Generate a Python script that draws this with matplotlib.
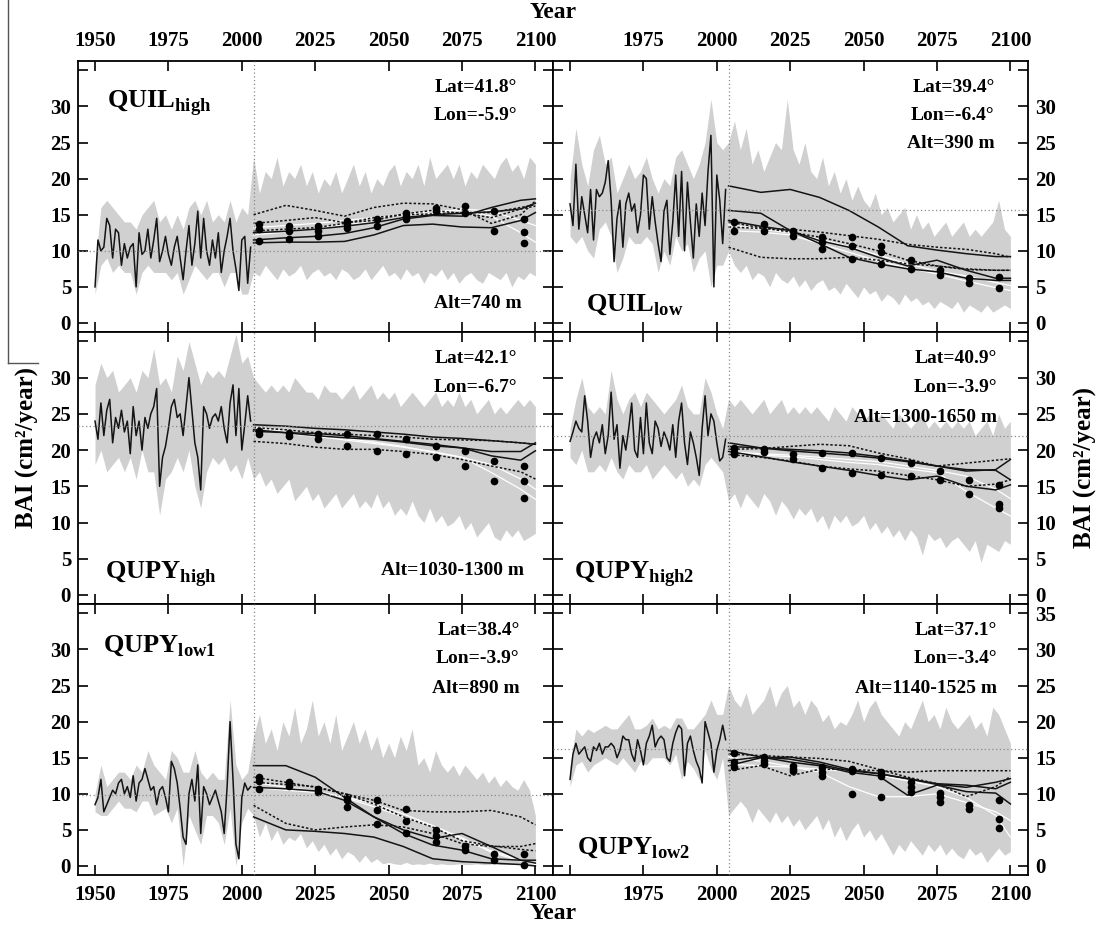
import matplotlib
matplotlib.use("Agg")
import matplotlib.pyplot as plt
import numpy as np
from matplotlib.lines import Line2D

plt.rcParams['font.family'] = ['Liberation Serif', 'DejaVu Serif']
plt.rcParams['font.weight'] = 'bold'
plt.rcParams['mathtext.fontset'] = 'custom'
plt.rcParams['mathtext.rm'] = 'Liberation Serif:bold'
plt.rcParams['mathtext.bf'] = 'Liberation Serif:bold'
plt.rcParams['axes.linewidth'] = 1.3

# ---------------- data ----------------
obs_years = np.arange(1950, 2004)
hist_band_years = np.arange(1950, 2005, 2)
proj_band_years = np.arange(2004, 2101, 2)
proj_years = [2004, 2015, 2025, 2035, 2045, 2055, 2065, 2075, 2085, 2095, 2100]
dot_years = [2006, 2016, 2026, 2036, 2046, 2056, 2066, 2076, 2086, 2096]
x_ticks = [1950, 1975, 2000, 2025, 2050, 2075, 2100]
y_ticks = [0, 5, 10, 15, 20, 25, 30, 35]

# Panel 1 : QUIL high
p1_obs = [5.0, 11.5, 10.0, 10.5, 14.5, 13.5, 9.0, 13.0, 12.5, 8.0, 11.0, 9.0, 10.5, 11.0, 5.0, 12.5, 9.5, 10.0,
          13.0, 9.0, 11.5, 14.5, 8.5, 10.0, 12.0, 9.5, 8.0, 10.5, 12.0, 9.0, 6.0, 10.0, 13.5, 8.0, 11.0, 15.5,
          9.0, 14.5, 10.0, 8.0, 11.5, 9.0, 12.5, 7.0, 10.0, 12.0, 14.5, 10.0, 7.5, 4.5, 11.5, 12.0, 5.5, 10.5]
p1_hist_up = [8, 16, 17, 16, 15, 14, 14, 13, 15, 16, 17, 14, 15, 13, 15, 13, 16, 17, 15, 17, 14, 15, 14, 17, 14, 16, 15, 23]
p1_hist_lo = [4, 8, 9, 7, 8, 7, 7, 4, 7, 8, 7, 7, 7, 6, 7, 4, 6, 8, 7, 6, 7, 7, 5, 7, 7, 4, 4, 7]
p1_proj_up = [23, 18, 21, 20, 23, 19, 21, 20, 22, 19, 21, 18, 20, 19, 21, 18, 20, 22, 19, 21, 18, 20, 19, 21, 22,
              19, 21, 20, 22, 19, 23, 20, 21, 22, 20, 22, 19, 21, 20, 22, 21, 20, 22, 23, 21, 22, 20, 23, 22]
p1_proj_lo = [7, 6.5, 8, 7, 6, 7.5, 6.5, 7, 8, 6, 7, 7.5, 6.5, 7, 6, 7.5, 7, 6, 6.5, 7.5, 6, 7, 8, 6.5, 7, 6,
              7.5, 6.5, 7, 5.5, 7, 6.5, 7.5, 6, 7, 5.5, 6.5, 7, 6, 5.5, 7, 6.5, 6, 7, 5, 6.5, 6, 7, 6.5]
p1_solid = [[11.1, 11.2, 11.2, 11.3, 12.2, 13.5, 13.7, 13.3, 13.2, 14.2, 15.3],
            [11.5, 11.8, 12.0, 12.4, 13.2, 14.4, 14.9, 14.8, 16.0, 17.0, 17.2],
            [12.5, 12.7, 13.0, 13.4, 13.9, 14.6, 15.0, 15.2, 15.4, 15.8, 16.6]]
p1_dotted = [[15.0, 16.3, 15.6, 14.8, 16.0, 16.6, 16.5, 15.7, 13.8, 15.0, 16.9],
             [12.75, 13.0, 13.2, 13.8, 14.6, 15.0, 15.1, 15.3, 15.3, 16.0, 16.4],
             [13.8, 14.2, 14.6, 13.9, 14.2, 15.1, 15.6, 15.2, 14.6, 15.8, 16.2]]
p1_white = [[13.2, 13.5, 13.8, 14.2, 14.6, 15.0, 15.5, 15.6, 14.8, 12.5, 11.2],
            [12.2, 12.6, 13.1, 13.6, 14.0, 14.6, 15.2, 15.8, 15.5, 14.2, 13.5]]
p1_dots = [[13.7, 13.0, 11.4], [13.4, 12.8, 11.6], [13.4, 12.8, 12.1], [14.1, 13.7, 13.2], [14.4, 13.4],
           [15.3, 14.8, 14.4], [16.0, 15.5], [16.2, 15.3], [15.5, 12.8], [14.4, 12.6, 11.1]]
p1_mean = 10.0

# Panel 2 : QUIL low
p2_obs = [16.5, 13.5, 22.0, 13.0, 17.5, 15.0, 12.5, 18.5, 11.5, 18.5, 17.5, 18.0, 19.5, 22.5, 17.0, 8.5, 14.5,
          17.0, 10.5, 16.5, 18.0, 15.5, 16.5, 12.5, 15.0, 20.5, 20.0, 13.0, 17.5, 14.0, 11.0, 8.5, 15.5, 17.0,
          9.5, 14.0, 20.5, 12.0, 21.0, 10.0, 19.5, 14.0, 9.0, 16.5, 12.0, 18.0, 13.5, 21.0, 26.0, 5.0, 20.5,
          17.0, 11.0, 18.5]
p2_hist_up = [20, 27, 22, 19, 24, 26, 22, 23, 18, 20, 22, 20, 21, 23, 20, 18, 20, 19, 23, 24, 22, 20, 22, 25, 31, 25, 24, 25]
p2_hist_lo = [12, 11, 12, 10, 9, 13, 14, 12, 7, 9, 12, 11, 11, 12, 11, 7, 10, 8, 12, 10, 11, 7, 9, 10, 5, 8, 8, 10]
p2_proj_up = [25, 28, 24, 27, 22, 24, 21, 23, 25, 24, 31, 24, 22, 25, 21, 20, 23, 19, 21, 18, 20, 17, 19, 17, 16,
              18, 15, 16, 14, 15, 16, 13, 15, 13, 14, 12, 13, 14, 12, 13, 14, 12, 13, 12, 13, 14, 17, 13, 12]
p2_proj_lo = [10, 8, 7, 8, 6, 7, 6.5, 5, 7, 6, 5.5, 6.5, 5, 6, 4.5, 5.5, 6, 4.5, 5, 4, 5.5, 4.5, 3.5, 5, 4, 4.5,
              3, 4, 3.5, 2.5, 4, 3, 3.5, 2.5, 3, 2, 3, 2.5, 2, 3, 1.5, 2.5, 2, 1.5, 2.5, 1.5, 2, 2.5, 2]
p2_solid = [[19.0, 18.1, 18.5, 17.4, 15.6, 13.3, 10.7, 10.1, 9.6, 9.2, 9.2],
            [15.6, 15.2, 12.8, 11.4, 10.5, 9.1, 7.9, 8.7, 7.3, 6.2, 6.2],
            [14.2, 13.4, 12.8, 11.0, 9.1, 8.2, 7.5, 7.1, 6.2, 5.9, 5.9]]
p2_dotted = [[10.5, 9.1, 8.9, 8.9, 9.1, 8.7, 8.2, 7.9, 7.5, 7.3, 7.3],
             [13.3, 13.1, 13.0, 12.6, 12.1, 11.6, 10.9, 10.5, 10.2, 9.6, 9.1],
             [14.0, 13.2, 12.6, 11.9, 11.0, 10.0, 8.7, 7.9, 7.4, 7.3, 7.3]]
p2_white = [[12.8, 12.6, 12.2, 11.0, 9.8, 8.6, 7.6, 6.8, 5.8, 4.9, 4.5],
            [13.6, 13.0, 12.5, 11.6, 10.6, 9.4, 8.2, 7.2, 6.5, 5.6, 5.2]]
p2_dots = [[14.0, 12.8], [13.7, 12.8], [12.8, 12.1], [11.9, 11.2, 10.3], [11.9, 10.7, 8.9],
           [10.7, 9.8, 8.2], [8.7, 7.5], [7.3, 6.6], [6.2, 5.5], [6.4, 4.8]]
p2_mean = 15.7

# Panel 3 : QUPY high
p3_obs = [24.0, 21.5, 26.5, 22.0, 25.5, 27.0, 21.0, 24.5, 23.0, 25.5, 22.5, 24.0, 19.5, 26.0, 22.0, 24.0, 20.0,
          24.5, 23.0, 25.0, 26.0, 28.5, 15.0, 19.0, 20.5, 23.0, 26.0, 27.0, 24.5, 25.0, 22.0, 26.0, 30.0, 25.5,
          21.0, 19.0, 14.5, 26.0, 25.0, 23.0, 24.5, 25.0, 24.0, 26.0, 23.0, 21.0, 26.5, 29.0, 22.0, 28.5, 20.0,
          23.5, 27.5, 24.0]
p3_hist_up = [29, 32, 30, 31, 28, 29, 30, 28, 31, 30, 34, 29, 30, 28, 33, 31, 35, 32, 29, 31, 30, 31, 30, 33, 36, 32, 33, 30]
p3_hist_lo = [18, 20, 17, 18, 19, 17, 19, 16, 20, 17, 17, 11, 16, 17, 19, 17, 20, 15, 12, 17, 19, 18, 19, 17, 18, 16, 19, 16]
p3_proj_up = [30, 29, 28, 29, 28, 29, 28, 30, 29, 28, 28, 27, 29, 28, 28, 27, 28, 29, 27, 28, 29, 27, 28, 27, 28,
              26, 27, 28, 27, 26, 27, 28, 26, 27, 26, 28, 26, 27, 25, 26, 27, 25, 26, 25, 26, 27, 26, 27, 26]
p3_proj_lo = [16, 17, 15, 16, 14, 15, 16, 13, 14, 15, 13, 14, 12, 13, 14, 12, 13, 14, 12, 13, 12, 14, 12, 13, 11,
              12, 11, 13, 11, 10, 12, 10, 11, 9.5, 10, 11, 9, 10, 8, 9, 10, 8, 7.5, 9, 8, 9, 7.5, 8, 8.5]
p3_solid = [[23.5, 23.3, 23.0, 22.8, 22.5, 22.2, 21.8, 21.6, 21.3, 21.0, 20.8],
            [22.8, 22.4, 22.0, 21.7, 21.5, 21.1, 20.6, 20.3, 19.8, 19.8, 21.0],
            [22.6, 22.4, 22.3, 22.0, 21.6, 21.2, 20.8, 20.3, 19.2, 18.6, 19.9]]
p3_dotted = [[21.2, 20.9, 20.4, 20.1, 20.1, 19.8, 19.4, 18.7, 17.8, 17.0, 16.0],
             [23.1, 22.8, 22.4, 22.2, 22.0, 21.8, 21.5, 21.4, 21.3, 21.0, 20.8]]
p3_white = [[23.1, 22.6, 22.1, 21.6, 21.1, 20.5, 19.7, 19.0, 16.9, 14.6, 13.2],
            [22.8, 22.3, 21.9, 21.4, 20.9, 20.4, 19.8, 19.0, 18.0, 16.0, 14.6]]
p3_dots = [[22.6, 22.2], [22.4, 21.9], [22.2, 21.5], [22.2, 20.5], [22.2, 19.9], [21.5, 19.4], [20.5, 19.1],
           [19.9, 17.8], [18.5, 15.7], [17.8, 15.7, 13.4]]
p3_mean = 23.3

# Panel 4 : QUPY high2
p4_obs = [21.2, 22.5, 24.0, 23.0, 22.5, 27.5, 24.0, 19.0, 21.5, 22.5, 21.0, 23.5, 19.5, 22.0, 28.0, 21.5, 23.5,
          17.5, 22.0, 20.0, 23.0, 26.5, 20.0, 19.0, 24.5, 19.5, 26.5, 21.0, 19.5, 24.0, 23.0, 20.5, 22.5, 21.5,
          20.0, 23.5, 19.0, 24.0, 26.5, 21.0, 18.0, 22.5, 21.0, 19.0, 16.5, 23.0, 27.5, 22.0, 25.0, 24.0, 21.0,
          18.5, 19.0, 21.5]
p4_hist_up = [23, 27, 30, 26, 25, 26, 25, 31, 27, 25, 27, 28, 26, 28, 27, 26, 25, 26, 27, 29, 26, 25, 25, 30, 28, 25, 23, 27]
p4_hist_lo = [19, 18, 20, 17, 17, 18, 17, 19, 17, 16, 18, 17, 17, 18, 16, 17, 18, 17, 16, 17, 15, 16, 15, 18, 19, 18, 17, 13]
p4_proj_up = [27, 26, 27, 26, 25, 26, 27, 25, 26, 27, 25, 26, 25, 26, 25, 26, 25, 24, 26, 25, 24, 26, 25, 24, 25,
              24, 25, 24, 23, 25, 24, 23, 24, 25, 23, 24, 23, 24, 23, 24, 23, 24, 22, 23, 24, 22, 25, 23, 24]
p4_proj_lo = [13, 14, 12, 14, 13, 12, 14, 13, 11, 13, 12, 10.5, 12, 11, 12, 10, 11, 9, 11, 10, 11, 9.5, 10, 11, 9,
              10, 8.5, 9.5, 8, 9, 7.5, 9, 8, 5.5, 8.5, 7.5, 8, 6.5, 7.5, 8, 7, 6, 7.5, 4.5, 7, 6.5, 6, 7.5, 7]
p4_solid = [[21.0, 20.3, 20.1, 19.9, 19.6, 19.1, 18.5, 17.8, 17.1, 17.3, 18.7],
            [20.5, 20.3, 19.9, 19.6, 19.3, 18.9, 18.4, 17.8, 17.3, 17.2, 15.9],
            [19.8, 19.1, 18.4, 17.8, 17.2, 16.5, 15.9, 16.4, 15.0, 14.5, 15.2]]
p4_dotted = [[20.1, 20.2, 20.5, 20.8, 20.6, 19.6, 18.8, 17.8, 18.2, 18.6, 18.8],
             [19.4, 19.0, 18.5, 17.8, 17.4, 17.1, 16.5, 15.9, 15.0, 15.3, 15.9]]
p4_white = [[19.6, 19.3, 19.1, 18.7, 18.3, 18.0, 17.4, 16.9, 14.3, 12.0, 10.9],
            [19.8, 19.5, 19.3, 19.0, 18.7, 18.4, 17.8, 17.2, 16.4, 14.6, 13.3]]
p4_dots = [[20.3, 19.8, 19.4], [20.1, 19.8], [19.4, 18.7], [19.6, 17.5], [19.6, 16.9], [18.9, 16.6],
           [18.2, 16.4], [17.1, 15.9], [15.9, 13.9], [15.2, 12.5, 12.0]]
p4_mean = 21.9

# Panel 5 : QUPY low1
p5_obs = [8.5, 9.5, 12.0, 7.5, 8.5, 9.5, 10.5, 10.0, 11.5, 12.0, 10.0, 11.0, 9.5, 12.5, 9.0, 11.5, 12.0, 13.5,
          12.0, 10.5, 11.0, 8.5, 10.5, 11.0, 9.5, 7.5, 14.5, 13.5, 11.5, 8.0, 4.0, 3.0, 10.0, 12.0, 9.0, 14.0,
          4.5, 11.0, 10.0, 8.5, 9.5, 10.5, 9.0, 7.5, 4.5, 11.0, 20.0, 12.0, 3.0, 1.0, 9.5, 11.5, 10.5, 11.0]
p5_hist_up = [10, 14, 11, 12, 13, 13, 12, 14, 13, 16, 14, 13, 12, 16, 15, 13, 13, 16, 13, 12, 13, 12, 12, 23, 14, 12, 13, 18]
p5_hist_lo = [7.5, 7, 7, 8, 9, 8, 8, 7.5, 9, 9, 7, 7.5, 8, 6, 8, 0, 7, 5, 3, 7, 7, 6, 3, 8, 0, 6, 8, 7]
p5_proj_up = [18, 21, 17, 19, 16, 20, 18, 22, 17, 19, 23, 18, 20, 17, 21, 16, 18, 20, 17, 19, 16, 18, 15, 17, 15,
              18, 16, 19, 14, 15, 13, 16, 14, 13, 14, 12.5, 14, 13, 12, 13, 11.5, 12.5, 11, 12, 11, 10.5, 12, 10.5, 7]
p5_proj_lo = [7, 4, 6, 3.5, 5, 3, 4, 3.5, 4.5, 2.5, 3.5, 2, 3, 1.5, 2.5, 1, 2, 1.5, 0.5, 1.5, 0.5, 1, 0.3, 0.5,
              0.3, 0.2, 0.5, 0.2, 0.3, 0.2, 0.4, 0.2, 0.3, 0.2, 0.2, 0.3, 0.2, 0.2, 0.3, 0.2, 0.2, 0.3, 0.2, 0.2,
              0.2, 0.3, 0.2, 0.2, 0.2]
p5_solid = [[13.9, 13.9, 12.3, 9.5, 6.8, 5.0, 3.8, 4.5, 2.7, 0.8, 0.4],
            [6.8, 5.0, 4.8, 4.5, 4.0, 2.7, 1.0, 0.6, 0.4, 0.2, 0.0],
            [10.9, 10.7, 10.4, 9.1, 6.8, 4.5, 2.9, 2.2, 1.0, 0.8, 0.8]]
p5_dotted = [[8.4, 5.9, 5.0, 5.4, 5.7, 5.4, 4.5, 3.1, 2.7, 2.7, 3.1],
             [12.3, 11.6, 10.9, 10.0, 9.1, 7.7, 7.5, 7.5, 7.7, 6.8, 5.7],
             [11.6, 11.3, 11.0, 10.0, 8.6, 6.8, 5.4, 3.5, 2.8, 2.3, 2.1]]
p5_white = [[10.9, 10.5, 10.2, 9.6, 8.6, 7.2, 5.6, 3.9, 1.9, 0.7, 0.4],
            [11.6, 10.9, 10.4, 9.5, 8.2, 6.8, 5.5, 3.7, 2.1, 0.9, 0.2]]
p5_dots = [[12.3, 11.8, 10.7], [11.6, 11.1], [10.7, 10.2], [9.5, 9.1, 8.2], [9.2, 7.8, 5.8], [7.9, 6.2, 4.6],
           [5.0, 4.1, 3.3], [2.7, 2.2], [1.7, 0.8], [1.6, 0.2]]
p5_mean = 9.9

# Panel 6 : QUPY low2
p6_obs = [12.0, 15.5, 17.0, 15.5, 16.0, 16.5, 15.0, 14.5, 16.5, 16.0, 17.0, 15.5, 16.5, 16.5, 17.0, 16.5, 15.0,
          16.0, 18.0, 17.5, 17.5, 15.5, 14.5, 17.5, 16.0, 14.0, 17.0, 18.0, 19.5, 16.5, 17.5, 18.0, 17.5, 15.0,
          14.5, 17.0, 18.5, 19.5, 19.0, 12.5, 17.0, 18.0, 16.0, 14.5, 13.5, 11.5, 20.0, 18.5, 17.0, 13.0, 16.0,
          17.5, 19.5, 17.5]
p6_hist_up = [14, 19, 18, 19, 18.5, 19, 19.5, 19, 19, 20, 21, 19, 19, 19.5, 20.5, 19, 19.5, 19, 20.5, 20.5, 19, 19,
              20, 21, 23, 21, 21, 25]
p6_hist_lo = [11, 14, 14.5, 13, 14, 14.5, 15, 14.5, 14, 15, 14, 13, 14.5, 14, 15, 15, 15, 14, 15.5, 12, 14.5, 13.5,
              12, 16, 13.5, 12, 15, 7]
p6_proj_up = [25, 23, 22, 24, 21, 22, 23, 25, 22, 24, 25, 22, 23, 21, 23, 22, 20, 21, 19, 20, 19.5, 21, 23, 20, 22,
              23, 21, 20, 19, 18, 20, 19, 21, 23, 20, 21, 19, 22, 20, 19, 20, 21, 19, 20, 18, 22, 21, 19, 17]
p6_proj_lo = [7, 8, 9, 8, 6, 8, 7, 6, 7.5, 6, 7, 5.5, 6.5, 5, 6, 7, 5, 6.5, 4, 5.5, 3.5, 5, 6, 4, 5, 3.5, 4.5, 3,
              1.5, 3, 2, 3.5, 2.5, 1.5, 3, 2, 3, 1.5, 2.5, 1.5, 1, 2.5, 1.5, 2, 0.5, 1.5, 2.5, 1.5, 2]
p6_solid = [[16.0, 15.1, 14.8, 14.1, 13.2, 12.8, 12.1, 11.4, 11.2, 10.7, 11.6],
            [14.6, 15.1, 14.4, 13.9, 13.0, 12.5, 9.8, 11.2, 10.3, 10.1, 8.6],
            [13.9, 15.0, 15.1, 14.4, 13.4, 12.8, 12.1, 11.3, 10.9, 11.6, 12.1]]
p6_dotted = [[13.2, 13.9, 12.5, 13.4, 13.4, 13.2, 13.0, 13.2, 13.2, 13.2, 13.2],
             [15.5, 15.3, 15.1, 14.9, 14.5, 13.4, 12.3, 11.4, 9.6, 11.0, 12.4]]
p6_white = [[15.1, 14.5, 13.8, 13.0, 11.0, 9.6, 9.6, 10.0, 8.8, 7.5, 6.3],
            [14.1, 13.9, 13.7, 13.4, 13.1, 12.6, 11.8, 11.0, 9.5, 7.0, 4.0]]
p6_dots = [[15.7, 14.4, 13.7], [15.1, 14.6, 14.1], [13.9, 13.4, 13.2], [13.7, 13.0, 12.5], [13.4, 13.2, 10.0],
           [13.0, 12.5, 9.5], [11.6, 10.9, 10.2], [10.1, 9.5, 8.9], [8.4, 7.9], [9.1, 6.5, 5.2]]
p6_mean = 16.2

site_names = ['QUIL', 'QUIL', 'QUPY', 'QUPY', 'QUPY', 'QUPY']
site_subs = ['high', 'low', 'high', 'high2', 'low1', 'low2']
site_lat = ['Lat=41.8°', 'Lat=39.4°', 'Lat=42.1°', 'Lat=40.9°', 'Lat=38.4°', 'Lat=37.1°']
site_lon = ['Lon=-5.9°', 'Lon=-6.4°', 'Lon=-6.7°', 'Lon=-3.9°', 'Lon=-3.9°', 'Lon=-3.4°']
site_alt = ['Alt=740 m', 'Alt=390 m', 'Alt=1030-1300 m', 'Alt=1300-1650 m', 'Alt=890 m', 'Alt=1140-1525 m']

panels = [
    (p1_obs, p1_hist_up, p1_hist_lo, p1_proj_up, p1_proj_lo, p1_solid, p1_dotted, p1_white, p1_dots, p1_mean),
    (p2_obs, p2_hist_up, p2_hist_lo, p2_proj_up, p2_proj_lo, p2_solid, p2_dotted, p2_white, p2_dots, p2_mean),
    (p3_obs, p3_hist_up, p3_hist_lo, p3_proj_up, p3_proj_lo, p3_solid, p3_dotted, p3_white, p3_dots, p3_mean),
    (p4_obs, p4_hist_up, p4_hist_lo, p4_proj_up, p4_proj_lo, p4_solid, p4_dotted, p4_white, p4_dots, p4_mean),
    (p5_obs, p5_hist_up, p5_hist_lo, p5_proj_up, p5_proj_lo, p5_solid, p5_dotted, p5_white, p5_dots, p5_mean),
    (p6_obs, p6_hist_up, p6_hist_lo, p6_proj_up, p6_proj_lo, p6_solid, p6_dotted, p6_white, p6_dots, p6_mean),
]

# ---------------- layout / style ----------------
W, H = 1099, 930
BAND = '#d0d0d0'
LINE = '#141414'
col_left = [78, 553]
row_top = [61, 332, 604]
row_bot = [332, 604, 875]
panel_w = 475

# text positions (axes fraction): name(x, baseline y), lat/lon right x, lat y, lon y, alt (x, y)
text_pos = [
    dict(name=(0.061, 0.827), rx=0.924, lat=0.904, lon=0.800, alt=(0.935, 0.107)),
    dict(name=(0.069, 0.081), rx=0.930, lat=0.904, lon=0.800, alt=(0.930, 0.697)),
    dict(name=(0.057, 0.092), rx=0.924, lat=0.904, lon=0.797, alt=(0.939, 0.122)),
    dict(name=(0.044, 0.092), rx=0.935, lat=0.904, lon=0.797, alt=(0.935, 0.686)),
    dict(name=(0.053, 0.823), rx=0.930, lat=0.904, lon=0.800, alt=(0.930, 0.690)),
    dict(name=(0.050, 0.081), rx=0.935, lat=0.904, lon=0.800, alt=(0.935, 0.690)),
]

fig = plt.figure(figsize=(W / 100, H / 100), dpi=100)

for i, (obs, hup, hlo, pup, plo, solid, dotted, white, dots, mean) in enumerate(panels):
    r, c = divmod(i, 2)
    x0 = col_left[c] / W
    y0 = 1 - row_bot[r] / H
    hh = (row_bot[r] - row_top[r]) / H
    ax = fig.add_axes([x0, y0, panel_w / W, hh])

    ax.fill_between(hist_band_years, hlo, hup, color=BAND, lw=0, zorder=1)
    ax.fill_between(proj_band_years, plo, pup, color=BAND, lw=0, zorder=1)
    for s in white:
        ax.plot(proj_years, s, color='white', lw=0.9, zorder=2)
    for s in dotted:
        ax.plot(proj_years, s, color=LINE, lw=1.1, ls=(0, (1.6, 1.3)), zorder=3)
    for s in solid:
        ax.plot(proj_years, s, color=LINE, lw=1.1, zorder=3)
    ax.plot(obs_years, obs, color=LINE, lw=1.1, zorder=4)
    for yr, vals in zip(dot_years, dots):
        ax.plot([yr] * len(vals), vals, 'o', color='black', ms=4.5, zorder=5)
    ax.axhline(mean, color='#8a8a8a', lw=0.9, ls=(0, (1, 2)), zorder=6)
    ax.axvline(2004, color='#8a8a8a', lw=0.9, ls=(0, (1, 2)), zorder=6)

    ax.set_xlim(1944.2, 2106.0)
    ax.set_ylim(-1.25, 36.3)

    ax.set_xticks(x_ticks)
    xl = [str(t) for t in x_ticks]
    if c == 1:
        xl[0] = ''
    ax.set_xticklabels(xl)
    ax.set_yticks(y_ticks)
    yl = [str(t) for t in y_ticks]
    if not (r == 2 and c == 1):
        yl[-1] = ''
    ax.set_yticklabels(yl)

    ax.tick_params(axis='both', direction='in', length=7, width=1.2, top=True, bottom=True,
                   left=True, right=True, labelsize=15)
    ax.tick_params(axis='x', pad=7, labeltop=(r == 0), labelbottom=(r == 2))
    ax.tick_params(axis='y', pad=5, labelleft=(c == 0), labelright=(c == 1))

    tp = text_pos[i]
    ax.text(tp['name'][0], tp['name'][1],
            r'$\mathbf{%s}_{\mathbf{%s}}$' % (site_names[i], site_subs[i]),
            transform=ax.transAxes, ha='left', va='baseline', fontsize=19, zorder=7)
    ax.text(tp['rx'], tp['lat'], site_lat[i], transform=ax.transAxes, ha='right', va='center',
            fontsize=14, fontweight='bold', zorder=7)
    ax.text(tp['rx'], tp['lon'], site_lon[i], transform=ax.transAxes, ha='right', va='center',
            fontsize=14, fontweight='bold', zorder=7)
    ax.text(tp['alt'][0], tp['alt'][1], site_alt[i], transform=ax.transAxes, ha='right', va='center',
            fontsize=14, fontweight='bold', zorder=7)

fig.text(553 / W, 1 - 13 / H, 'Year', ha='center', va='center', fontsize=17, fontweight='bold')
fig.text(553 / W, 1 - 913 / H, 'Year', ha='center', va='center', fontsize=17, fontweight='bold')
fig.text(27 / W, 1 - 447 / H, 'BAI (cm²/year)', rotation=90, ha='center', va='center',
         fontsize=18, fontweight='bold')
fig.text(1085 / W, 1 - 467 / H, 'BAI (cm²/year)', rotation=90, ha='center', va='center',
         fontsize=18, fontweight='bold')

# thin frame line at the far left of the original figure
fig.add_artist(Line2D([8 / W, 8 / W], [1.0, 1 - 363 / H], color='#555555', lw=1.0))
fig.add_artist(Line2D([8 / W, 38 / W], [1 - 363 / H, 1 - 363 / H], color='#555555', lw=1.0))

fig.savefig('out.png', dpi=100)
